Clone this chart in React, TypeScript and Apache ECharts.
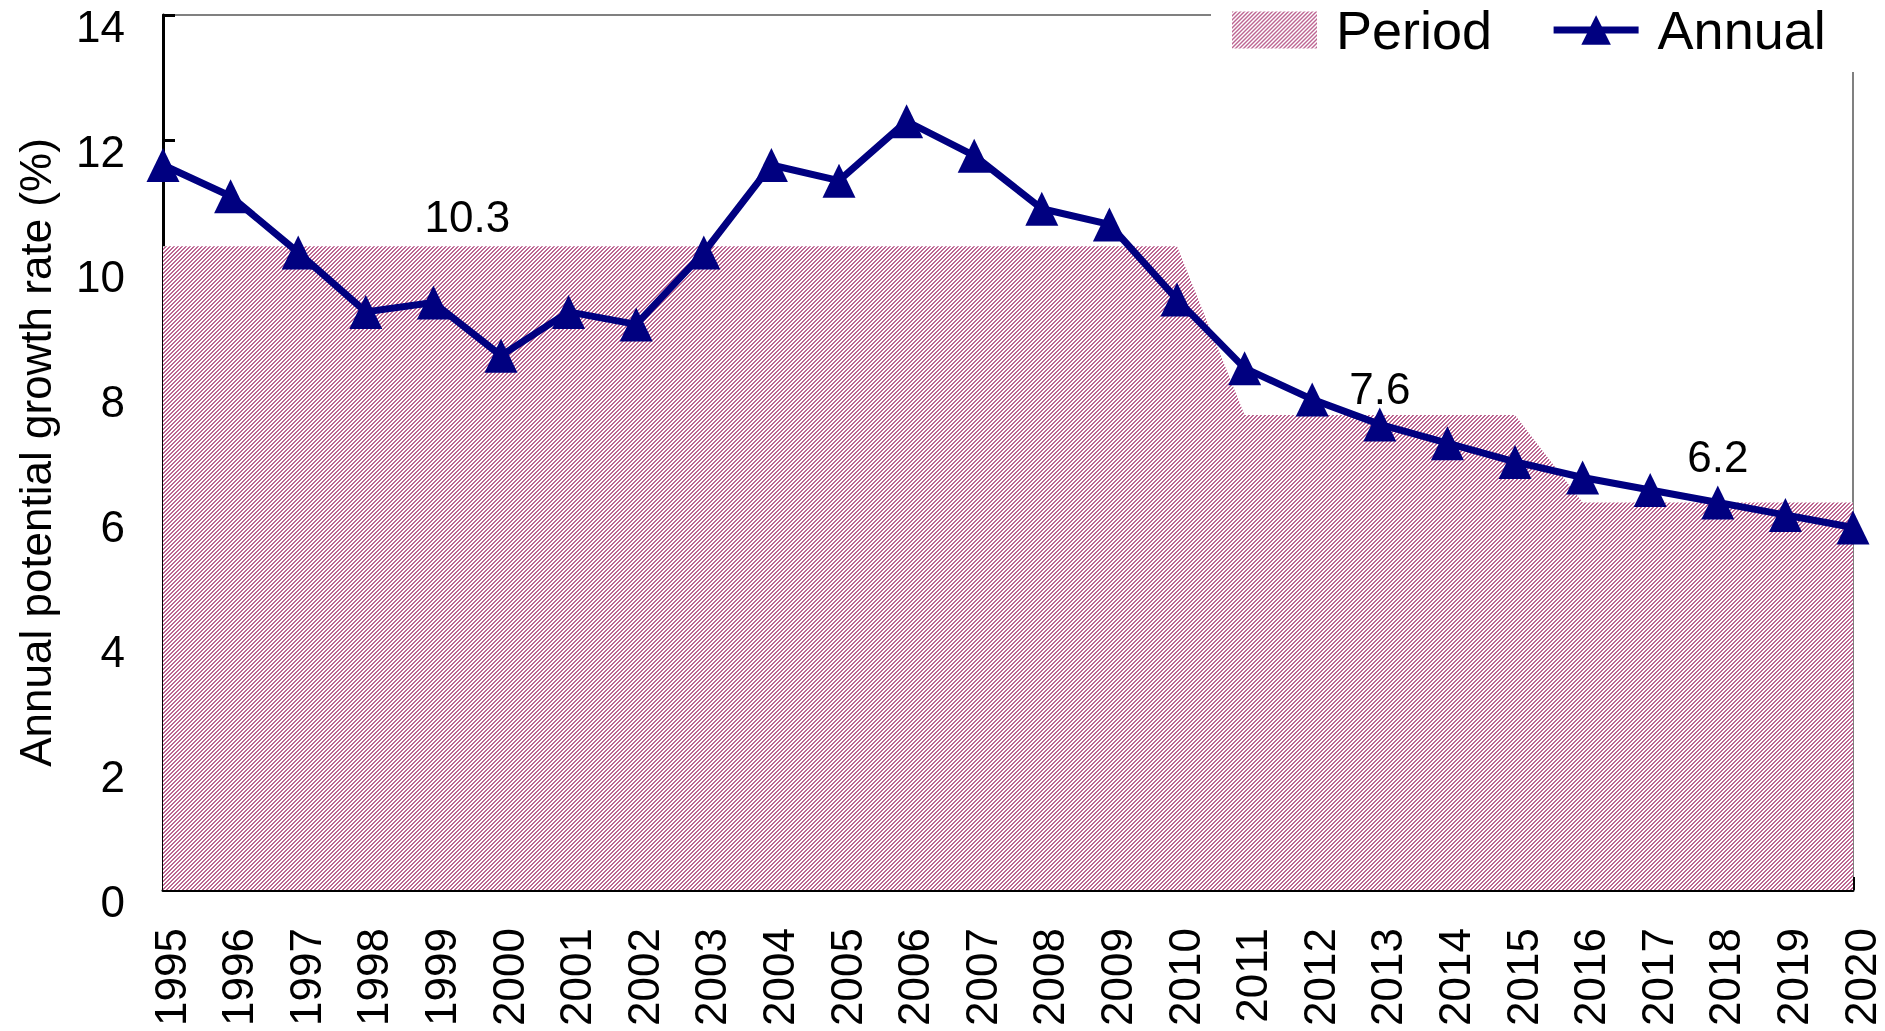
import React, { useEffect, useRef } from "react";
import * as echarts from "echarts";

const years = [
  "1995", "1996", "1997", "1998", "1999", "2000", "2001", "2002", "2003",
  "2004", "2005", "2006", "2007", "2008", "2009", "2010", "2011", "2012",
  "2013", "2014", "2015", "2016", "2017", "2018", "2019", "2020",
];

const annual = [
  11.6, 11.1, 10.2, 9.25, 9.4, 8.55, 9.25, 9.05, 10.2, 11.6, 11.35, 12.3,
  11.75, 10.9, 10.65, 9.45, 8.35, 7.85, 7.45, 7.15, 6.85, 6.6, 6.4, 6.2, 6.0, 5.8,
];

const period = [
  10.3, 10.3, 10.3, 10.3, 10.3, 10.3, 10.3, 10.3, 10.3, 10.3, 10.3, 10.3,
  10.3, 10.3, 10.3, 10.3, 7.6, 7.6, 7.6, 7.6, 7.6, 6.2, 6.2, 6.2, 6.2, 6.2,
];

// labels shown on the period area: [index, text, distance, offsetX]
const periodLabels: [number, string, number, number][] = [
  [4, "10.3", 8, 34],
  [18, "7.6", 5, 0],
  [23, "6.2", 24, 0],
];

const yTicks = { min: 0, max: 14, interval: 2 };

const FONT = "'Liberation Sans', Arial, sans-serif";

function makePattern() {
  const c = document.createElement("canvas");
  c.width = 4;
  c.height = 4;
  const ctx = c.getContext("2d")!;
  ctx.fillStyle = "#ffffff";
  ctx.fillRect(0, 0, 4, 4);
  ctx.fillStyle = "#bd6592";
  for (let y = 0; y < 4; y++) {
    ctx.fillRect((3 - y + 4) % 4, y, 1, 1);
    ctx.fillRect((4 - y) % 4, y, 1, 1);
  }
  return { image: c, repeat: "repeat", imageWidth: 4, imageHeight: 4 } as any;
}

export default function App() {
  const ref = useRef<HTMLDivElement>(null);
  useEffect(() => {
    if (!ref.current) return;
    const chart = echarts.init(ref.current, undefined, { renderer: "svg" });
    const pattern = makePattern();

    const periodData = period.map((v, i) => {
      const lab = periodLabels.find((l) => l[0] === i);
      if (!lab) return v;
      return {
        value: v,
        label: {
          show: true,
          position: "top",
          formatter: lab[1],
          distance: lab[2],
          offset: [lab[3], 0],
          fontSize: 44,
          lineHeight: 44,
          color: "#000",
          fontFamily: FONT,
        },
      };
    });

    chart.setOption({
      animation: false,
      textStyle: { fontFamily: FONT },
      grid: {
        left: 163,
        top: 15,
        right: 32,
        bottom: 141,
        containLabel: false,
        outerBoundsMode: "none",
        show: true,
        borderColor: "#808080",
        borderWidth: 2,
        backgroundColor: "transparent",
      },
      legend: {
        left: 1211,
        top: -12,
        padding: [0, 40, 0, 21],
        itemGap: 58,
        itemWidth: 85,
        itemHeight: 37,
        backgroundColor: "#ffffff",
        lineStyle: { width: 7 },
        textStyle: {
          fontSize: 54,
          color: "#000",
          lineHeight: 56,
          padding: [28, 0, 0, 14],
          fontFamily: FONT,
        },
        data: [
          { name: "Period", icon: "rect", itemStyle: { color: pattern } },
          { name: "Annual" },
        ],
      },
      xAxis: {
        type: "category",
        data: years,
        boundaryGap: false,
        axisLine: { show: true, lineStyle: { color: "#000", width: 3 } },
        axisTick: {
          show: true,
          inside: true,
          length: 13,
          alignWithLabel: true,
          lineStyle: { color: "#000", width: 3 },
        },
        axisLabel: {
          rotate: 90,
          interval: 0,
          fontSize: 44,
          lineHeight: 14,
          verticalAlign: "top",
          color: "#000",
          margin: 38,
          fontFamily: FONT,
        },
        splitLine: { show: false },
      },
      yAxis: {
        type: "value",
        min: yTicks.min,
        max: yTicks.max,
        interval: yTicks.interval,
        name: "Annual potential growth rate (%)",
        nameLocation: "middle",
        nameGap: 106,
        nameRotate: 90,
        nameTextStyle: { fontSize: 44, color: "#000", fontFamily: FONT },
        axisLine: { show: true, lineStyle: { color: "#000", width: 3 } },
        axisTick: {
          show: true,
          inside: true,
          length: 12,
          lineStyle: { color: "#000", width: 3 },
        },
        axisLabel: {
          fontSize: 44,
          lineHeight: 22,
          verticalAlign: "top",
          color: "#000",
          margin: 38,
          fontFamily: FONT,
        },
        splitLine: { show: false },
      },
      series: [
        {
          name: "Period",
          type: "line",
          data: periodData,
          z: 1,
          showSymbol: true,
          symbol: "circle",
          symbolSize: 0,
          itemStyle: { color: pattern },
          lineStyle: { width: 0, opacity: 0 },
          areaStyle: { color: pattern, opacity: 1 },
          label: { show: false },
          emphasis: { disabled: true },
          silent: true,
        },
        {
          name: "Annual",
          type: "line",
          data: annual,
          z: 3,
          symbol: "triangle",
          symbolSize: [33, 34],
          itemStyle: { color: "#000080" },
          lineStyle: { color: "#000080", width: 7 },
          emphasis: { disabled: true },
          silent: true,
        },
      ],
    });
    return () => chart.dispose();
  }, []);
  return (
    <div
      ref={ref}
      style={{ position: "fixed", left: 0, top: 0, width: 1885, height: 1031 }}
    />
  );
}
